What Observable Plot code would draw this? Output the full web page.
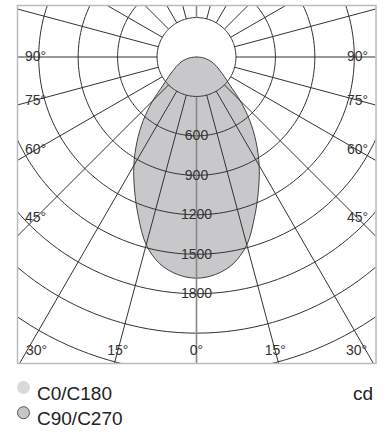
<!DOCTYPE html>
<html><head><meta charset="utf-8">
<script src="https://cdn.jsdelivr.net/npm/d3@7"></script>
<script src="https://cdn.jsdelivr.net/npm/@observablehq/plot@0.6"></script>
<style>
body{margin:0;background:#fff;}
#chart{width:389px;}
#chart svg{display:block;}
</style>
</head><body><div id="chart"></div>
<script>
// Luminous intensity distribution (cd), angle from nadir in degrees
const gamma = [0, 5, 10, 15, 20, 25, 30, 35, 40, 45, 50, 55, 60, 65, 70, 75, 80, 85, 90];
const c90c270 = [1682, 1660, 1598, 1478, 1292, 1115, 953, 790, 630, 470, 330, 258, 205, 168, 136, 105, 72, 37, 0];
const c0c180 = [1682, 1660, 1598, 1478, 1292, 1115, 953, 790, 630, 470, 330, 258, 205, 168, 136, 105, 72, 37, 0];
const ringValues = [300, 600, 900, 1200, 1500, 1800, 2100, 2400, 2700, 3000, 3300];
const ringLabels = ["600", "900", "1200", "1500", "1800"];
const ringLabelValues = [600, 900, 1200, 1500, 1800];
const spokeAngles = d3.range(0, 360, 15);
const sideAngles = [90, 75, 60, 45];
const bottomAngles = [-30, -15, 0, 15, 30];
const seriesNames = ["C0/C180", "C90/C270"];
const unitLabel = "cd";

// geometry
const W = 389, H = 370;
const cx = 196, cy = 56.5;
const k = 39.45 / 300; // px per cd
const fL = 17, fR = 375.5, fT = 5, fB = 363;
const rad = d => d * Math.PI / 180;

function loop(vals) {
  const pts = [];
  for (let i = gamma.length - 1; i >= 0; i--) pts.push({x: -vals[i] * Math.sin(rad(gamma[i])), y: -vals[i] * Math.cos(rad(gamma[i]))});
  for (let i = 1; i < gamma.length; i++) pts.push({x: vals[i] * Math.sin(rad(gamma[i])), y: -vals[i] * Math.cos(rad(gamma[i]))});
  return pts;
}

const rings = [];
for (const r of ringValues) for (let a = 0; a <= 360; a += 2) rings.push({r, x: r * Math.sin(rad(a)), y: -r * Math.cos(rad(a))});

const spokes = spokeAngles.map(a => ({a, x1: 300 * Math.sin(rad(a)), y1: -300 * Math.cos(rad(a)), x2: 5000 * Math.sin(rad(a)), y2: -5000 * Math.cos(rad(a))}));

const sideX = (357 - cx) / k;
const sideLab = [];
for (const a of sideAngles) {
  const y = a === 90 ? 0 : -sideX / Math.tan(rad(a));
  sideLab.push({x: -sideX, y, t: a + "°"});
  sideLab.push({x: sideX, y, t: a + "°"});
}
const botY = -(350.5 - cy) / k;
const maxBX = (356 - cx) / k;
const botLab = bottomAngles.map(a => {
  let x = -botY * Math.tan(rad(Math.abs(a)));
  x = Math.min(x, maxBX) * Math.sign(a);
  return {x, y: botY, t: Math.abs(a) + "°"};
});
const ringLab = ringLabelValues.map((v, i) => ({x: 0, y: -v, t: ringLabels[i]}));

const font = "Liberation Sans, Arial, Helvetica, sans-serif";

const plot = Plot.plot({
  width: W, height: H,
  marginLeft: fL, marginRight: W - fR, marginTop: fT, marginBottom: H - fB,
  x: {domain: [(fL - cx) / k, (fR - cx) / k], axis: null},
  y: {domain: [-(fB - cy) / k, (cy - fT) / k], axis: null},
  style: {fontFamily: font, background: "#fff"},
  marks: [
    Plot.line(loop(c0c180), {x: "x", y: "y", fill: "#d9d9db", stroke: "none", curve: "catmull-rom"}),
    Plot.line(loop(c90c270), {x: "x", y: "y", fill: "#c8c8ca", stroke: "#444", strokeWidth: 1, curve: "catmull-rom"}),
    Plot.line(rings, {x: "x", y: "y", z: "r", stroke: "#333", strokeWidth: 1, clip: true}),
    Plot.link(spokes.filter(d => d.a % 180 !== 0), {x1: "x1", y1: "y1", x2: "x2", y2: "y2", stroke: "#333", strokeWidth: 1, clip: true}),
    Plot.link(spokes.filter(d => d.a % 180 === 0), {x1: "x1", y1: "y1", x2: "x2", y2: "y2", stroke: "#888", strokeWidth: 1.6, clip: true}),
    Plot.text(sideLab, {x: "x", y: "y", text: "t", fontSize: 14, fill: "#333", fontFamily: font}),
    Plot.text(botLab, {x: "x", y: "y", text: "t", fontSize: 14, fill: "#333", fontFamily: font}),
    Plot.text(ringLab, {x: "x", y: "y", text: "t", fontSize: 14, fill: "#333", fontFamily: font}),
    Plot.frame({stroke: "#bbb", strokeWidth: 1.5})
  ]
});
document.getElementById("chart").appendChild(plot);

// legend below the chart
const leg = d3.select("#chart").append("svg").attr("width", W).attr("height", 75)
  .style("font-family", font);
leg.append("circle").attr("cx", 23.5).attr("cy", 17.5).attr("r", 6.5).attr("fill", "#d9d9db");
leg.append("circle").attr("cx", 23.5).attr("cy", 42.7).attr("r", 6).attr("fill", "#c6c6c8").attr("stroke", "#555").attr("stroke-width", 1);
leg.append("text").attr("x", 37).attr("y", 30).attr("font-size", 19).attr("fill", "#222").text(seriesNames[0]);
leg.append("text").attr("x", 37).attr("y", 55).attr("font-size", 19).attr("fill", "#222").text(seriesNames[1]);
leg.append("text").attr("x", 373).attr("y", 30).attr("font-size", 19).attr("fill", "#222").attr("text-anchor", "end").text(unitLabel);
</script>
</body></html>
